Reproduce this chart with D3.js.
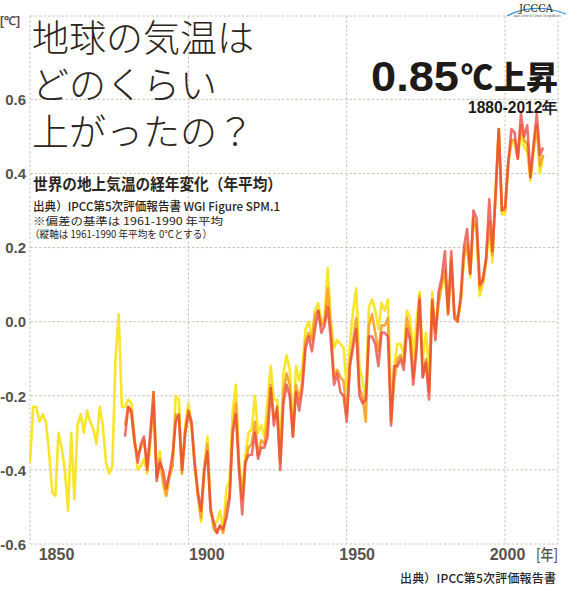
<!DOCTYPE html>
<html><head><meta charset="utf-8">
<script src="https://cdn.jsdelivr.net/npm/d3@7"></script>
<style>html,body{margin:0;padding:0;background:#fff;} svg{display:block;}</style>
</head><body>
<svg id="chart" width="577" height="592"></svg>
<script>
// ---- data ----
const hadStart = 1850;
const otherStart = 1880;
// yellow: HadCRUT4 style series, 1850-2012 (anomaly vs 1961-1990, °C)
const hadcrut4 = [
 -0.38,-0.23,-0.23,-0.27,-0.25,-0.27,-0.35,-0.46,-0.47,-0.30,
 -0.34,-0.40,-0.51,-0.30,-0.48,-0.28,-0.25,-0.30,-0.24,-0.27,
 -0.29,-0.33,-0.23,-0.28,-0.38,-0.41,-0.39,-0.10, 0.02,-0.23,
 -0.23,-0.21,-0.22,-0.31,-0.40,-0.39,-0.37,-0.41,-0.33,-0.19,
 -0.42,-0.35,-0.44,-0.47,-0.41,-0.39,-0.20,-0.21,-0.41,-0.28,
 -0.22,-0.28,-0.39,-0.46,-0.54,-0.39,-0.31,-0.50,-0.55,-0.54,
 -0.51,-0.56,-0.45,-0.43,-0.24,-0.17,-0.38,-0.46,-0.36,-0.30,
 -0.29,-0.20,-0.30,-0.28,-0.31,-0.21,-0.12,-0.21,-0.21,-0.34,
 -0.14,-0.09,-0.13,-0.29,-0.12,-0.16,-0.12,-0.02, 0.00,-0.04,
  0.03, 0.05, 0.00, 0.01, 0.145,0.00,-0.07,-0.05,-0.06,-0.07,
 -0.18,-0.06, 0.03, 0.09,-0.12,-0.16,-0.21, 0.04, 0.06, 0.03,
 -0.02, 0.05, 0.03, 0.06,-0.21,-0.12,-0.06,-0.06,-0.09, 0.03,
  0.01,-0.09, 0.00, 0.08,-0.10,-0.03,-0.13, 0.08,-0.02, 0.05,
  0.10, 0.12, 0.02, 0.17, 0.01, 0.00, 0.05, 0.17, 0.20, 0.12,
  0.27, 0.24, 0.07, 0.10, 0.16, 0.25, 0.16, 0.36, 0.52, 0.29,
  0.29, 0.43, 0.48, 0.49, 0.44, 0.52, 0.47, 0.46, 0.38, 0.46,
  0.53, 0.40, 0.45
];
// orange: NOAA style series, 1880-2012
const noaa = [
 -0.28,-0.23,-0.25,-0.33,-0.36,-0.34,-0.32,-0.39,-0.31,-0.22,
 -0.42,-0.37,-0.43,-0.47,-0.42,-0.39,-0.25,-0.26,-0.41,-0.30,
 -0.25,-0.28,-0.39,-0.47,-0.53,-0.41,-0.33,-0.50,-0.56,-0.57,
 -0.55,-0.57,-0.50,-0.47,-0.29,-0.22,-0.39,-0.48,-0.38,-0.34,
 -0.33,-0.27,-0.36,-0.32,-0.33,-0.27,-0.17,-0.26,-0.24,-0.38,
 -0.19,-0.14,-0.17,-0.31,-0.17,-0.21,-0.16,-0.05,-0.03,-0.05,
  0.02, 0.03,-0.01, 0.00, 0.09,-0.02,-0.15,-0.13,-0.15,-0.16,
 -0.25,-0.11,-0.05, 0.01,-0.18,-0.20,-0.27,-0.01, 0.02,-0.03,
 -0.08,-0.01,-0.01, 0.01,-0.27,-0.16,-0.10,-0.09,-0.11, 0.01,
 -0.03,-0.15,-0.06, 0.07,-0.15,-0.10,-0.19, 0.05,-0.03, 0.05,
  0.10, 0.14, 0.03, 0.16, 0.02, 0.01, 0.06, 0.18, 0.21, 0.13,
  0.28, 0.25, 0.09, 0.12, 0.17, 0.27, 0.18, 0.35, 0.52, 0.30,
  0.30, 0.43, 0.49, 0.49, 0.44, 0.53, 0.49, 0.48, 0.39, 0.47,
  0.53, 0.42, 0.45
];
// red: GISS style series, 1880-2012
const giss = [
 -0.31,-0.23,-0.24,-0.32,-0.38,-0.33,-0.31,-0.40,-0.30,-0.19,
 -0.43,-0.38,-0.40,-0.45,-0.41,-0.36,-0.27,-0.25,-0.40,-0.30,
 -0.24,-0.27,-0.38,-0.46,-0.51,-0.40,-0.35,-0.51,-0.54,-0.57,
 -0.55,-0.56,-0.53,-0.48,-0.30,-0.25,-0.40,-0.52,-0.38,-0.36,
 -0.36,-0.30,-0.37,-0.34,-0.34,-0.31,-0.18,-0.28,-0.23,-0.40,
 -0.22,-0.17,-0.20,-0.31,-0.19,-0.24,-0.18,-0.07,-0.04,-0.08,
 -0.02, 0.03,-0.03,-0.01, 0.04,-0.05,-0.17,-0.14,-0.19,-0.20,
 -0.27,-0.12,-0.07,-0.02,-0.20,-0.22,-0.21,-0.04,-0.04,-0.06,
 -0.12,-0.03,-0.03,-0.04,-0.28,-0.12,-0.12,-0.10,-0.13,-0.02,
 -0.05,-0.17,-0.08, 0.06,-0.15,-0.11,-0.21, 0.06,-0.05, 0.08,
  0.12, 0.19, 0.02, 0.19, 0.01, 0.00, 0.07, 0.20, 0.25, 0.13,
  0.30, 0.28, 0.10, 0.11, 0.17, 0.33, 0.19, 0.34, 0.52, 0.30,
  0.31, 0.43, 0.52, 0.51, 0.44, 0.56, 0.50, 0.53, 0.39, 0.48,
  0.56, 0.45, 0.47
];
const yTicks = [0.6, 0.4, 0.2, 0.0, -0.2, -0.4, -0.6];
const yTickLabels = ["0.6", "0.4", "0.2", "0.0", "-0.2", "-0.4", "-0.6"];
const xGridYears = [1900, 1950, 2000];
const xTickYears = [1850, 1900, 1950, 2000];
const titleLines = ["地球の気温は", "どのくらい", "上がったの？"];
const subTitle = "世界の地上気温の経年変化（年平均）";
const sourceLine = "出典）IPCC第5次評価報告書 WGI Figure SPM.1";
const noteLines = ["※偏差の基準は 1961-1990 年平均", "（縦軸は 1961-1990 年平均を 0℃とする）"];

// ---- scales ----
const x = d3.scaleLinear().domain([1850, 2016.7]).range([30, 558]);
const y = d3.scaleLinear().domain([-0.6, 0.825]).range([544, 16]);
const xLabel = d3.scaleLinear().domain([1850, 2000]).range([56, 507]);

const svg = d3.select("#chart");
const gridColor = "#c9c1b6";
const dash = "2.5,2";
const numFont = "'Liberation Sans Narrow','Arial Narrow','Liberation Sans',Arial,sans-serif";
const jpFont = "'Noto Sans CJK JP','Noto Sans CJK SC',sans-serif";
const labelColor = "#57524c";
const textColor = "#2b2520";

// ---- grid ----
const grid = svg.append("g");
const [x0, x1] = x.range();
const [yb, yt] = y.range();
grid.selectAll("line.h").data(yTicks.concat([y.domain()[1]])).join("line")
  .attr("x1", x0).attr("x2", x1)
  .attr("y1", d => y(d)).attr("y2", d => y(d))
  .attr("stroke", gridColor).attr("stroke-dasharray", dash);
grid.selectAll("line.v").data([x.domain()[0]].concat(xGridYears, [x.domain()[1]])).join("line")
  .attr("x1", d => x(d)).attr("x2", d => x(d))
  .attr("y1", yt).attr("y2", yb)
  .attr("stroke", gridColor).attr("stroke-dasharray", dash);

// ---- axes labels ----
const yAx = svg.append("g").attr("transform", "translate(26,0)")
  .call(d3.axisLeft(y).tickValues(yTicks).tickSize(0).tickPadding(0)
    .tickFormat((d, i) => yTickLabels[i]));
yAx.select(".domain").remove();
yAx.selectAll("text").attr("font-family", numFont).attr("font-weight", "bold")
  .attr("font-size", 15).attr("fill", labelColor).attr("dy", "0.35em");

const xAx = svg.append("g").attr("transform", "translate(0,546)")
  .call(d3.axisBottom(xLabel).tickValues(xTickYears).tickSize(0).tickPadding(0)
    .tickFormat(d3.format("d")));
xAx.select(".domain").remove();
xAx.selectAll("text").attr("font-family", numFont).attr("font-weight", "bold")
  .attr("font-size", 16).attr("fill", labelColor).attr("dy", "0.85em");

svg.append("text").attr("x", 536).attr("y", 560)
  .attr("font-family", jpFont).attr("font-size", 15).attr("font-weight", 500)
  .attr("textLength", 22).attr("lengthAdjust", "spacingAndGlyphs")
  .attr("fill", labelColor).text("[年]");
svg.append("text").attr("x", 0).attr("y", 25)
  .attr("font-family", numFont).attr("font-weight", "bold").attr("font-size", 12)
  .attr("fill", labelColor).text("[℃]");

// ---- series ----
const toPts = (arr, start) => arr.map((v, i) => ({ year: start + i, v }));
const line = d3.line().x(d => x(d.year)).y(d => y(d.v));
const series = [
  { data: toPts(hadcrut4, hadStart), color: "#f8e52c", op: 1 },
  { data: toPts(noaa, otherStart), color: "#f5a327", op: 0.92 },
  { data: toPts(giss, otherStart), color: "#e8413a", op: 0.75 }
];
svg.append("g").selectAll("path").data(series).join("path")
  .attr("d", d => line(d.data))
  .attr("fill", "none").attr("stroke", d => d.color).attr("stroke-opacity", d => d.op)
  .attr("stroke-width", 2.6).attr("stroke-linejoin", "round");

// ---- title (one text block, three lines) ----
svg.append("text")
  .attr("font-family", jpFont).attr("font-weight", 200).attr("font-size", 37)
  .attr("fill", textColor)
  .selectAll("tspan").data(titleLines).join("tspan")
  .attr("x", 32).attr("y", (d, i) => 52 + i * 47).text(d => d);

svg.append("text").attr("x", 33).attr("y", 190)
  .attr("font-family", jpFont).attr("font-weight", 700).attr("font-size", 16)
  .attr("textLength", 249).attr("lengthAdjust", "spacingAndGlyphs")
  .attr("fill", textColor).text(subTitle);

svg.append("text").attr("x", 33).attr("y", 210.5)
  .attr("font-family", jpFont).attr("font-size", 12).attr("font-weight", 500)
  .attr("textLength", 247).attr("lengthAdjust", "spacingAndGlyphs")
  .attr("fill", textColor).text(sourceLine);

const noteSpecs = [{ x: 33, y: 225, len: 190 }, { x: 30, y: 237.5, len: 182 }];
svg.append("text")
  .attr("font-family", jpFont).attr("font-size", 10.5).attr("font-weight", 400)
  .attr("fill", textColor)
  .selectAll("tspan").data(noteLines).join("tspan")
  .attr("x", (d, i) => noteSpecs[i].x).attr("y", (d, i) => noteSpecs[i].y)
  .attr("textLength", (d, i) => noteSpecs[i].len).attr("lengthAdjust", "spacingAndGlyphs")
  .text(d => d);

// ---- headline 0.85℃上昇 ----
svg.append("text").attr("x", 371).attr("y", 91)
  .attr("font-family", "'Liberation Sans',Arial,sans-serif").attr("font-weight", "bold")
  .attr("font-size", 42).attr("textLength", 88).attr("lengthAdjust", "spacingAndGlyphs")
  .attr("fill", "#1e1a17").text("0.85");
svg.append("text").attr("x", 461).attr("y", 89)
  .attr("font-family", jpFont).attr("font-weight", 900)
  .attr("font-size", 32).attr("textLength", 32).attr("lengthAdjust", "spacingAndGlyphs")
  .attr("fill", "#1e1a17").text("℃");
svg.append("text").attr("x", 494).attr("y", 89)
  .attr("font-family", jpFont).attr("font-weight", 900)
  .attr("font-size", 32).attr("textLength", 64).attr("lengthAdjust", "spacingAndGlyphs")
  .attr("fill", "#1e1a17").text("上昇");
svg.append("text").attr("x", 468).attr("y", 113)
  .attr("font-family", numFont).attr("font-weight", "bold")
  .attr("font-size", 16).attr("textLength", 90).attr("lengthAdjust", "spacingAndGlyphs")
  .attr("fill", "#1e1a17").text("1880-2012年");

// ---- footer ----
svg.append("text").attr("x", 400).attr("y", 583)
  .attr("font-family", jpFont).attr("font-size", 12).attr("font-weight", 500)
  .attr("textLength", 156).attr("lengthAdjust", "spacing")
  .attr("fill", textColor).text("出典）IPCC第5次評価報告書");

// ---- logo ----
const logo = svg.append("g");
logo.append("rect").attr("x", 506).attr("y", 0).attr("width", 62).attr("height", 19).attr("fill", "#fff");
logo.append("path").attr("d", "M507,16 Q534,2 566,14").attr("fill", "none")
  .attr("stroke", "#3b8fd4").attr("stroke-width", 1.3);
logo.append("text").attr("x", 536).attr("y", 12).attr("text-anchor", "middle")
  .attr("font-family", "'DejaVu Serif',serif").attr("font-size", 11)
  .attr("textLength", 34).attr("lengthAdjust", "spacingAndGlyphs")
  .attr("fill", "#2b2520").text("JCCCA");
logo.append("text").attr("x", 537).attr("y", 17).attr("text-anchor", "middle")
  .attr("font-family", "sans-serif").attr("font-size", 2.6)
  .attr("fill", "#555").text("Japan Center for Climate Change Actions");
</script>
</body></html>
